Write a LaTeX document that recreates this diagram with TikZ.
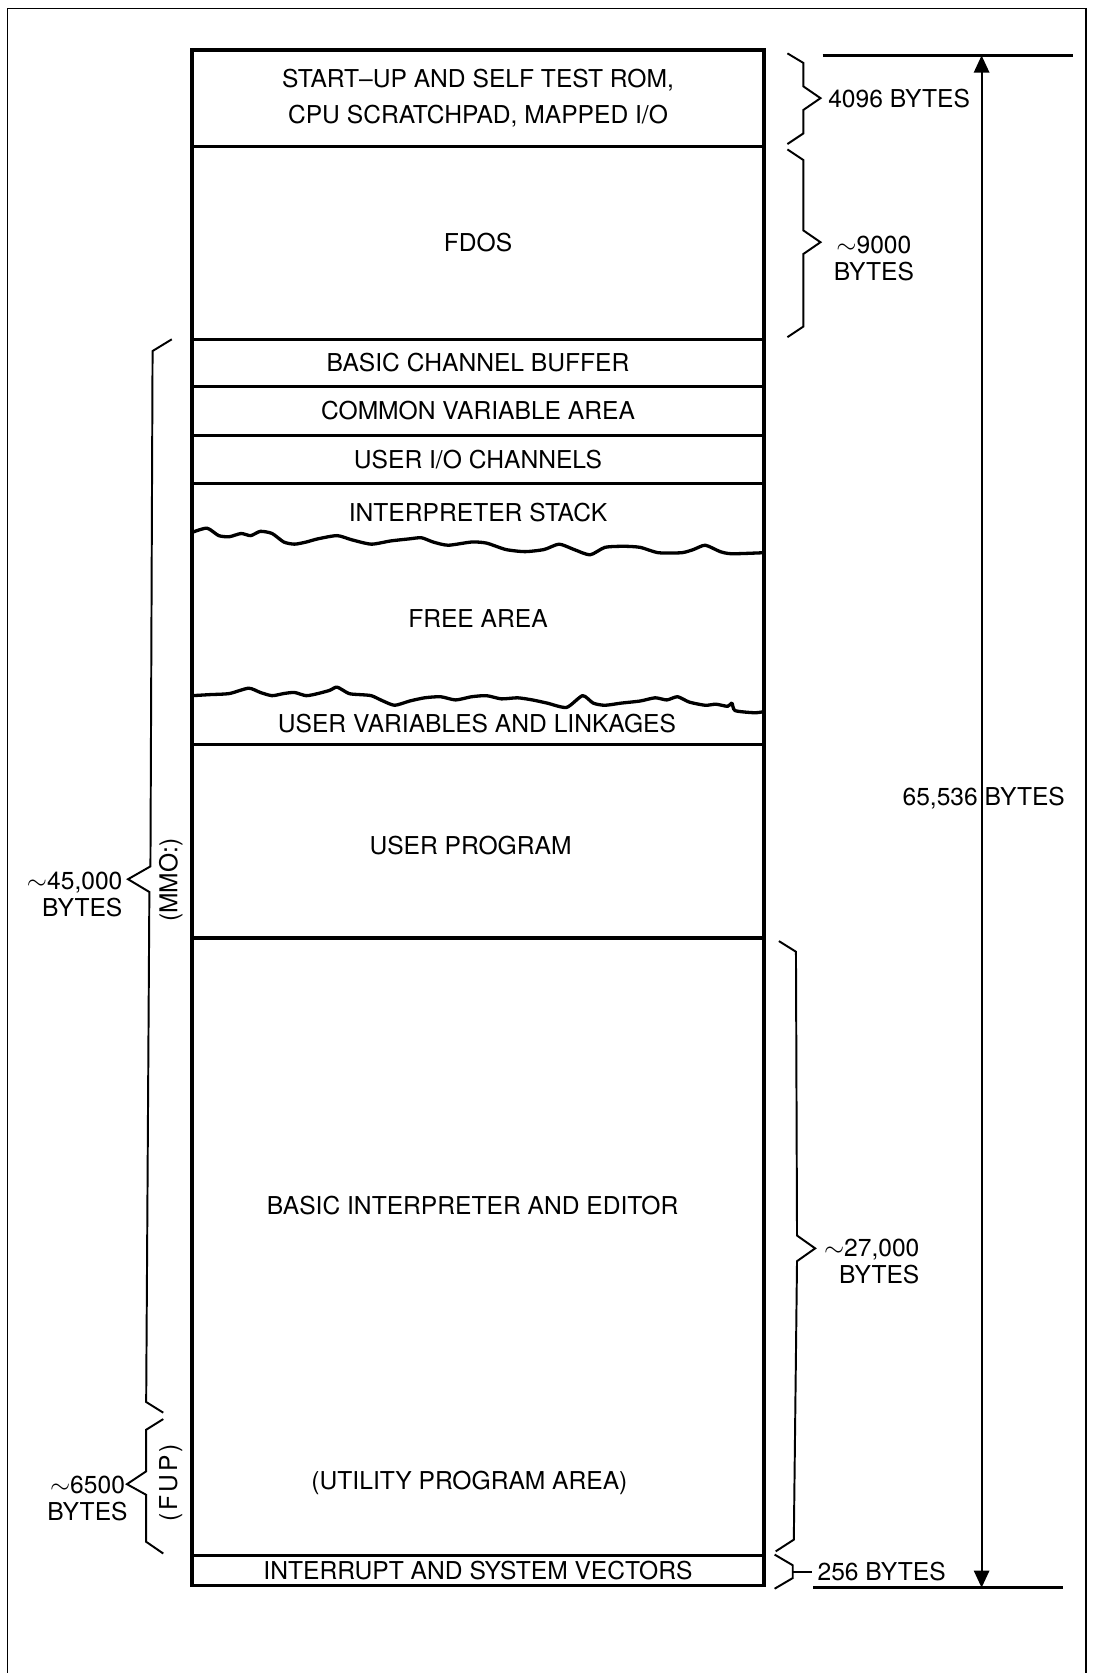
\documentclass[tikz,border=0pt]{standalone}
\usepackage{fontspec}
\setmainfont{TeX Gyre Heros}
\usetikzlibrary{arrows.meta}

\begin{document}
\begin{tikzpicture}[x=0.025cm, y=-0.025cm, font=\fontsize{16.4}{18}\selectfont,
  region/.style={draw, line width=2.2pt, minimum width=13.4cm, inner sep=0pt},
  bracket/.style={line width=1.3pt},
  wavy/.style={line width=2.2pt, line join=round},
  sizetext/.style={inner sep=0pt}]
\path[use as bounding box] (0,0) rectangle (1025,1568);

% frame
\draw[line width=1.2pt] (7,1568) -- (7,8) -- (1018,8) -- (1018,1568);

% memory column
\node[region, minimum height=2.25cm, align=center, font=\fontsize{16.4}{23.5}\selectfont] (rom) at (448,92) {START--UP AND SELF TEST ROM,\\CPU SCRATCHPAD, MAPPED I/O};
\node[region, minimum height=4.525cm] (fdos) at (448,227.5) {FDOS};
\node[region, minimum height=1.1cm] (chbuf) at (448,340) {BASIC CHANNEL BUFFER};
\node[region, minimum height=1.15cm] (comvar) at (448,385) {COMMON VARIABLE AREA};
\node[region, minimum height=1.125cm] (userio) at (448,430.5) {USER I/O CHANNELS};
\node[region, minimum height=6.125cm] (dyn) at (448,575.5) {};
\node[region, minimum height=4.525cm] (userprog) at (448,788.5) {};
\node[region, minimum height=14.475cm] (basic) at (448,1168.5) {};
\node[region, minimum height=0.7cm] (vectors) at (448,1472) {INTERRUPT AND SYSTEM VECTORS};

\node (stack) at (448,480) {INTERPRETER STACK};
\node (free) at (448,580) {FREE AREA};
\node (uservar) at (447,678) {USER VARIABLES AND LINKAGES};
\node (prog) at (441,792) {USER PROGRAM};
\node (interp) at (443,1130) {BASIC INTERPRETER AND EDITOR};
\node (utility) at (440,1390) {(UTILITY PROGRAM AREA)};

% ragged edges of the free area
\draw[wavy] plot[smooth, tension=0.4] coordinates {(180,499) (194,495) (205,502) (215,503) (226,500) (235,502) (244,498) (255,500) (266,508) (276,510) (287,508) (298,505) (316,502) (330,506) (348,510) (366,507) (384,505) (395,504) (406,508) (420,511) (442,508) (456,509) (474,515) (492,517) (510,515) (524,510) (538,515) (553,520) (567,513) (585,512) (600,513) (617,518) (639,518) (650,515) (661,511) (675,517) (686,519) (716,518)};
\draw[wavy] plot[smooth, tension=0.4] coordinates {(180,652) (197,651) (215,650) (233,645) (244,649) (255,652) (266,650) (276,649) (287,652) (298,650) (309,647) (316,644) (327,650) (337,651) (348,652) (359,657) (370,661) (384,657) (398,654) (413,653) (427,656) (442,653) (456,652) (470,655) (485,654) (499,656) (513,659) (531,663) (546,652) (556,659) (567,661) (582,659) (600,657) (614,654) (625,656) (635,653) (646,658) (661,661) (671,660) (682,662) (686,659) (689,666) (707,668) (716,667)};

% right braces
\draw[bracket] (738,50) -- (753,59) -- (753,81) -- (769,92) -- (753,103) -- (753,125) -- (738,135);
\draw[bracket] (738,140) -- (753,150) -- (753,216) -- (769,227) -- (753,238) -- (753,306) -- (738,316);
\draw[bracket] (730,882) -- (746,892) -- (747,1158) -- (764,1170) -- (747,1182) -- (744,1443) -- (727,1454);
\draw[bracket] (726,1457) -- (743,1467) -- (743,1479) -- (726,1489);
\draw[bracket] (743,1473) -- (761,1473);

\node[sizetext, anchor=west] (romsize) at (776,92) {4096 BYTES};
\node[sizetext, align=center] (fdossize) at (819,242) {$\sim$9000\\BYTES};
\node[sizetext, align=right, anchor=east] (interpsize) at (862,1182) {$\sim$27,000\\BYTES};
\node[sizetext, anchor=west] (vecsize) at (766,1473) {256 BYTES};

% left braces
\draw[bracket] (161,318) -- (143,329) -- (141,812) -- (120,824) -- (140,836) -- (137,1314) -- (153,1324);
\draw[bracket] (153,1330) -- (137,1340) -- (137,1379) -- (119,1391) -- (137,1401) -- (137,1445) -- (153,1456);

\node[sizetext, align=right, anchor=east] (mmosize) at (115,838) {$\sim$45,000\\BYTES};
\node[sizetext, align=center] (fupsize) at (82,1404) {$\sim$6500\\BYTES};
\node[sizetext, rotate=90] (mmo) at (160,825) {(MMO:)};
\node[sizetext, rotate=90] (fup) at (160,1390) {(\kern2pt F\kern2pt U\kern2pt P\kern2pt)};

% total size
\draw[line width=1.6pt] (771,52) -- (1006,52);
\draw[line width=1.6pt] (762,1488) -- (996,1488);
\coordinate (memtop) at (920,52);
\coordinate (membot) at (920,1488);
\draw[line width=1.2pt, {Triangle[length=4mm,width=3.6mm]}-{Triangle[length=4mm,width=3.6mm]}] (memtop) -- (membot);
\node[sizetext] (total) at (922,748) {65,536 BYTES};
\end{tikzpicture}
\end{document}
